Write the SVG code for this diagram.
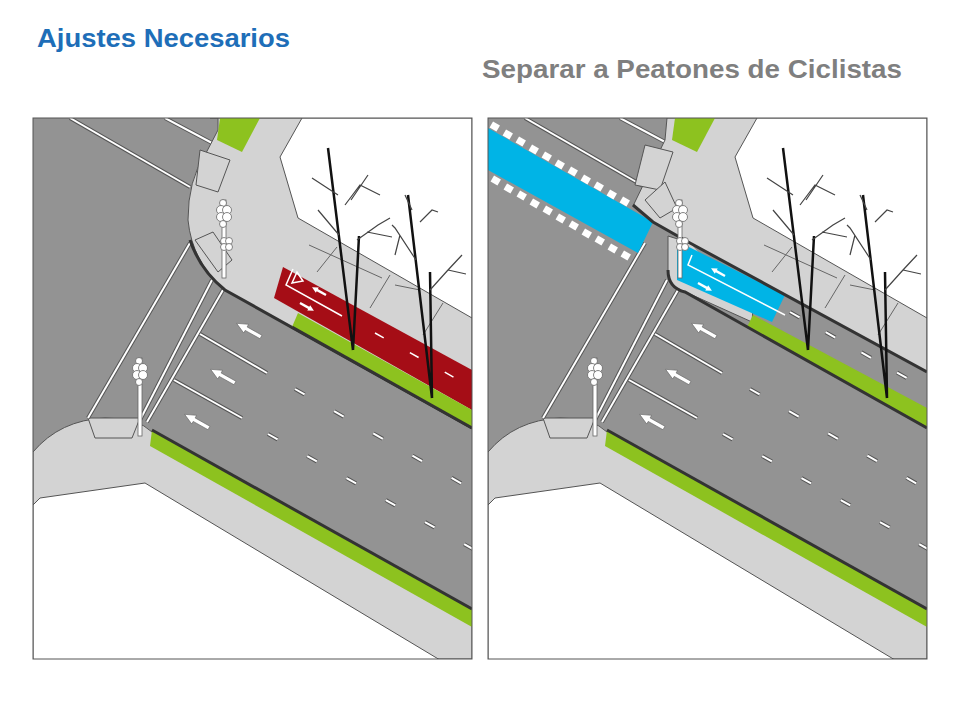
<svg xmlns="http://www.w3.org/2000/svg" xmlns:xlink="http://www.w3.org/1999/xlink" width="960" height="720" viewBox="0 0 960 720">
<style>
.road{fill:#939393}.side{fill:#d3d3d3;stroke:#555;stroke-width:1}.green{fill:#8dc21f}.lot{fill:#fff;stroke:#555;stroke-width:1}
.curb{fill:none;stroke:#333;stroke-width:3}.wl{fill:none;stroke:#fff;stroke-width:2}.wlo{fill:none;stroke:#555;stroke-width:4}
.pave{fill:none;stroke:#666;stroke-width:1}.trunk{fill:none;stroke:#111;stroke-width:2.5}.br{fill:none;stroke:#444;stroke-width:1.2}
.arrow{fill:#fff;stroke:#666;stroke-width:0.6}.ramp{fill:#d3d3d3;stroke:#555;stroke-width:1}
.t1{font-family:"Liberation Sans",Arial,sans-serif;font-weight:bold;font-size:25px;fill:#1e6eb8}
.t2{font-family:"Liberation Sans",Arial,sans-serif;font-weight:bold;font-size:25px;fill:#7f7f7f}
.sq{fill:#fff}
</style>
<defs>
<clipPath id="c"><rect x="33" y="118" width="439" height="541"/></clipPath>
<path id="arr" class="arrow" d="M0,-2 L-17,-2 L-17,-5 L-28,0 L-17,5 L-17,2 L0,2 Z"/>
<path id="sarr" fill="#fff" d="M0,-1.2 L-10,-1.2 L-10,-3 L-16,0 L-10,3 L-10,1.2 L0,1.2 Z"/>
<g id="light"><rect x="-2" y="0" width="4" height="78" fill="#fff" stroke="#666" stroke-width="0.8"/>
<circle cx="-1" cy="3" r="3.5" fill="#fff" stroke="#666" stroke-width="0.8"/><circle cx="-3" cy="10" r="4.5" fill="#fff" stroke="#666" stroke-width="0.8"/><circle cx="3" cy="10" r="4.5" fill="#fff" stroke="#666" stroke-width="0.8"/><circle cx="-3" cy="17" r="4.5" fill="#fff" stroke="#666" stroke-width="0.8"/><circle cx="3" cy="17" r="4.5" fill="#fff" stroke="#666" stroke-width="0.8"/><circle cx="-1" cy="24" r="3.5" fill="#fff" stroke="#666" stroke-width="0.8"/></g>
<g id="light2"><circle cx="-2" cy="0" r="3.5" fill="#fff" stroke="#666" stroke-width="0.8"/><circle cx="3" cy="0" r="3.5" fill="#fff" stroke="#666" stroke-width="0.8"/><circle cx="-2" cy="6" r="3.5" fill="#fff" stroke="#666" stroke-width="0.8"/><circle cx="3" cy="6" r="3.5" fill="#fff" stroke="#666" stroke-width="0.8"/></g>
<g id="base">
<rect x="33" y="118" width="439" height="541" class="road"/>
<line x1="70" y1="118" x2="190" y2="187" class="wlo"/><line x1="70" y1="118" x2="190" y2="187" class="wl"/>
<line x1="165" y1="118" x2="212" y2="143" class="wlo"/><line x1="165" y1="118" x2="212" y2="143" class="wl"/>
<path class="side" d="M33,452 Q60,420 105,418 Q138,418 152,432 L472,612 L472,659 L33,659 Z"/>
<path class="green" d="M152,430 L472,609 L472,627 L150,446 Z"/>
<path class="curb" d="M152,430 L472,609" stroke-width="2"/>
<path class="lot" d="M33,505 L40,498 L145,483 L440,660 L33,660 Z"/>
<path class="ramp" d="M88,418 L95,438 L132,438 L140,418 Z"/>
<g><line x1="88" y1="418" x2="190" y2="243" class="wlo"/><line x1="88" y1="418" x2="190" y2="243" class="wl"/>
<line x1="140" y1="420" x2="212" y2="280" class="wlo"/><line x1="140" y1="420" x2="212" y2="280" class="wl"/>
<line x1="147" y1="422" x2="223" y2="290" class="wlo"/><line x1="147" y1="422" x2="223" y2="290" class="wl"/></g>
<line x1="200" y1="334" x2="267" y2="373" class="wlo" stroke-width="3.5"/><line x1="200" y1="334" x2="267" y2="373" class="wl" stroke-width="1.5"/>
<line x1="174" y1="380" x2="242" y2="418" class="wlo" stroke-width="3.5"/><line x1="174" y1="380" x2="242" y2="418" class="wl" stroke-width="1.5"/>
<line x1="295" y1="389" x2="480" y2="494" class="wlo" stroke-width="4" stroke-dasharray="11 34"/><line x1="295" y1="389" x2="480" y2="494" class="wl" stroke-width="1.5" stroke-dasharray="11 34"/>
<line x1="268" y1="434" x2="480" y2="553" class="wlo" stroke-width="4" stroke-dasharray="11 34"/><line x1="268" y1="434" x2="480" y2="553" class="wl" stroke-width="1.5" stroke-dasharray="11 34"/>
<use xlink:href="#arr" transform="translate(261,337) rotate(29.3)"/>
<use xlink:href="#arr" transform="translate(235,383) rotate(29.3)"/>
<use xlink:href="#arr" transform="translate(209,428) rotate(29.3)"/>
<use xlink:href="#light" transform="translate(140,358)"/>
</g>
<g id="trees">
<path class="trunk" d="M353,350 L328,148 M353,350 L359,236"/>
<path class="br" d="M339,235 L318,210 M345,205 L360,185 L380,195 M351,200 L368,175 M357,240 L378,225 L390,218 M367,232 L392,237 M338,195 L312,178"/>
<path class="trunk" d="M432,398 L408,195 M432,398 L430,272"/>
<path class="br" d="M416,260 L395,228 L392,225 M400,235 L395,255 M420,222 L432,210 L438,212 M430,290 L448,270 L462,255 M448,270 L466,274 M412,210 L405,195"/>
</g>
</defs>

<text x="37" y="47" class="t1" textLength="253" lengthAdjust="spacingAndGlyphs">Ajustes Necesarios</text>
<text x="482" y="78" class="t2" textLength="420" lengthAdjust="spacingAndGlyphs">Separar a Peatones de Ciclistas</text>

<g id="panel-left" clip-path="url(#c)">
<use xlink:href="#base"/>
<g id="upper-block-left">
<path class="side" d="M210,118 L472,118 L472,428 L225,290 Q192,262 188,220 Q188,180 205,155 L218,130 L218,118 Z"/>
<path class="green" d="M220,118 L260,118 L242,152 L217,140 Z"/>
<path class="curb" d="M190,240 Q200,270 225,290 L472,428"/>
<path class="ramp" d="M200,150 L230,160 L218,192 L196,185 Z"/>
<path class="ramp" d="M195,240 L213,232 L232,260 L218,272 Z"/>
<path class="lot" d="M280,157 L302,118 L472,118 L472,318 L298,218 Z"/>
<path class="pave" d="M309,245 L382,278 M337,247 L317,272 M390,275 L370,308 M443,303 L423,335 M395,285 L420,290"/>
<path fill="#a50d16" d="M283,267 L472,370 L472,410 L274,298 Z"/>
<path fill="none" stroke="#fff" stroke-width="1.5" d="M293,269 L286,285 L342,316"/>
<path fill="none" stroke="#fff" stroke-width="1.5" d="M297,272 L292,283 L303,281 Z"/>
<use xlink:href="#sarr" transform="translate(326,295) rotate(29.3)"/>
<use xlink:href="#sarr" transform="translate(300,303) rotate(209.3)"/>
<line x1="375" y1="333" x2="480" y2="392" stroke="#fff" stroke-width="1.5" stroke-dasharray="10 30"/>
<path class="green" d="M298,313 L472,410 L472,428 L292,327 Z"/>
<path class="curb" d="M292,327 L472,428"/>
</g>
<use xlink:href="#trees"/>
<use xlink:href="#light" transform="translate(224,200)"/>
<use xlink:href="#light2" transform="translate(226,241)"/>
</g>
<rect x="33" y="118" width="439" height="541" fill="none" stroke="#555" stroke-width="1"/>

<g id="panel-right" clip-path="url(#c)" transform="translate(455,0)">
<use xlink:href="#base"/>
<g id="crossband">
<path fill="#00b4e6" d="M33,128 L198,222 L183,253 L33,170 Z"/>
<g class="sq">
<rect x="36" y="123" width="8" height="7" transform="rotate(30 40 126)"/><rect x="49" y="131" width="8" height="7" transform="rotate(30 53 134)"/><rect x="62" y="138" width="8" height="7" transform="rotate(30 66 141)"/><rect x="75" y="146" width="8" height="7" transform="rotate(30 79 149)"/><rect x="88" y="153" width="8" height="7" transform="rotate(30 92 156)"/><rect x="101" y="161" width="8" height="7" transform="rotate(30 105 164)"/><rect x="114" y="168" width="8" height="7" transform="rotate(30 118 171)"/><rect x="127" y="176" width="8" height="7" transform="rotate(30 131 179)"/><rect x="140" y="183" width="8" height="7" transform="rotate(30 144 186)"/><rect x="153" y="191" width="8" height="7" transform="rotate(30 157 194)"/><rect x="166" y="198" width="8" height="7" transform="rotate(30 170 201)"/>
<rect x="37" y="177" width="8" height="7" transform="rotate(30 41 180)"/><rect x="50" y="185" width="8" height="7" transform="rotate(30 54 188)"/><rect x="63" y="192" width="8" height="7" transform="rotate(30 67 195)"/><rect x="76" y="200" width="8" height="7" transform="rotate(30 80 203)"/><rect x="89" y="207" width="8" height="7" transform="rotate(30 93 210)"/><rect x="102" y="215" width="8" height="7" transform="rotate(30 106 218)"/><rect x="115" y="222" width="8" height="7" transform="rotate(30 119 225)"/><rect x="128" y="230" width="8" height="7" transform="rotate(30 132 233)"/><rect x="141" y="237" width="8" height="7" transform="rotate(30 145 240)"/><rect x="154" y="245" width="8" height="7" transform="rotate(30 158 248)"/><rect x="167" y="252" width="8" height="7" transform="rotate(30 171 255)"/>
</g>
</g>
<g id="upper-block-right">
<path class="side" d="M178,206 L198,222 L228,240 L235,243 L472,372 L472,118 L212,118 L210,140 Z"/>
<path class="side" d="M213,236 L226,240 L235,243 L300,280 L297,322 L226,290 Q213,286 213,275 Z"/>
<path class="green" d="M220,118 L260,118 L242,152 L217,140 Z"/>
<path class="ramp" d="M190,145 L218,152 L205,190 L180,185 Z"/>
<path class="ramp" d="M190,200 L210,182 L222,208 L205,218 Z"/>
<path class="lot" d="M280,157 L302,118 L472,118 L472,318 L298,218 Z"/>
<path class="pave" d="M309,245 L382,278 M337,247 L317,272 M390,275 L370,308 M443,303 L423,335 M395,285 L420,290"/>
<path class="road" d="M235,243 L472,372 L472,410 L300,315 Z"/>
<path fill="#00b4e6" d="M226,243 L330,295 L317,322 L222,280 L222,248 Z"/>
<path fill="none" stroke="#fff" stroke-width="1.5" d="M237,255 L233,265 L330,315"/>
<use xlink:href="#sarr" transform="translate(270,276) rotate(29.3)"/>
<use xlink:href="#sarr" transform="translate(243,283) rotate(209.3)"/>
<line x1="335" y1="312" x2="480" y2="394" class="wlo" stroke-width="4" stroke-dasharray="11 30"/>
<line x1="335" y1="312" x2="480" y2="394" class="wl" stroke-width="1.5" stroke-dasharray="11 30"/>
<path class="green" d="M298,315 L472,408 L472,428 L292,327 Z"/>
<path class="curb" d="M213,270 Q213,288 230,292 L472,428"/>
<path class="curb" d="M178,205 L198,222 L235,243 L472,372"/>
</g>
<use xlink:href="#trees"/>
<use xlink:href="#light" transform="translate(225,200)"/>
<use xlink:href="#light2" transform="translate(227,241)"/>
</g>
<rect x="488" y="118" width="439" height="541" fill="none" stroke="#555" stroke-width="1"/>
</svg>
